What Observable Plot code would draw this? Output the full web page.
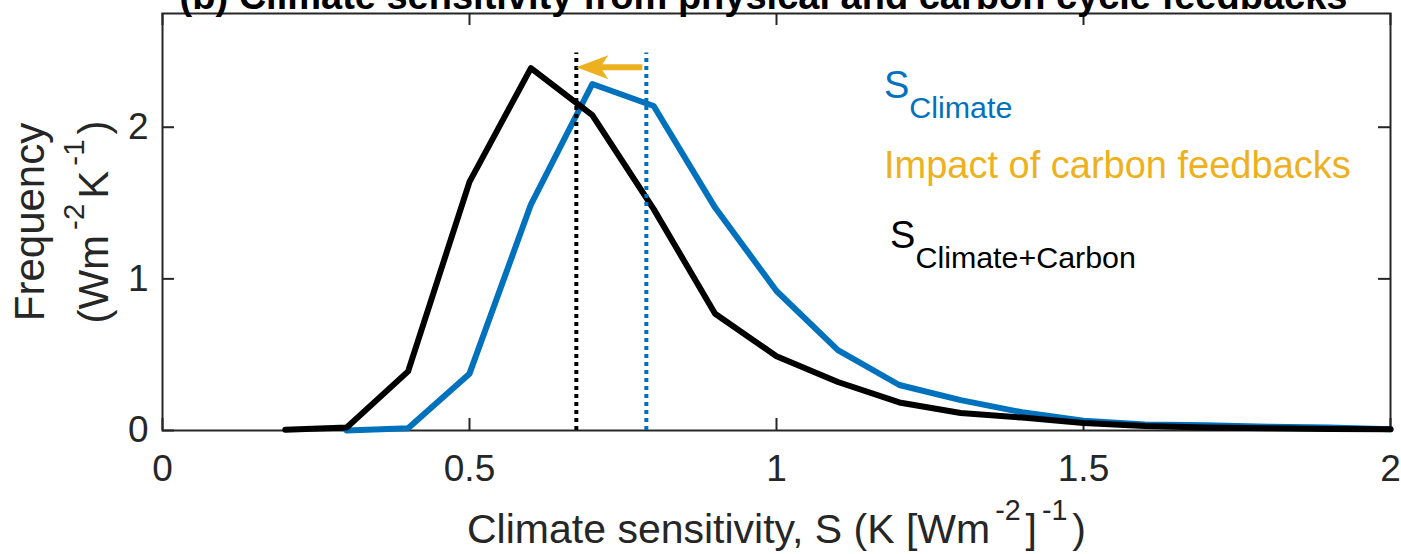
<!DOCTYPE html>
<html>
<head>
<meta charset="utf-8">
<script src="https://cdn.jsdelivr.net/npm/d3@7"></script>
<script src="https://cdn.jsdelivr.net/npm/@observablehq/plot@0.6"></script>
<style>
  html, body { margin: 0; padding: 0; background: #fff; }
  #chart svg { display: block; }
</style>
</head>
<body>
<div id="chart"></div>
<script>
// Climate sensitivity bins, K [W m^-2]^-1
const sensClimateCarbon = [0.2, 0.3, 0.4, 0.5, 0.6, 0.7, 0.8, 0.9, 1.0, 1.1, 1.2, 1.3, 1.4, 1.5, 1.6, 1.7, 1.8, 1.9, 2.0];
const freqClimateCarbon = [0.005, 0.02, 0.39, 1.64, 2.39, 2.08, 1.46, 0.77, 0.49, 0.32, 0.185, 0.115, 0.085, 0.05, 0.03, 0.02, 0.015, 0.01, 0.008];

const sensClimate = [0.3, 0.4, 0.5, 0.6, 0.7, 0.8, 0.9, 1.0, 1.1, 1.2, 1.3, 1.4, 1.5, 1.6, 1.7, 1.8, 1.9, 2.0];
const freqClimate = [0.0, 0.015, 0.375, 1.49, 2.285, 2.14, 1.47, 0.92, 0.53, 0.30, 0.20, 0.12, 0.065, 0.04, 0.035, 0.025, 0.02, 0.008];

// Mean sensitivity of each distribution
const meanClimate = 0.788;
const meanClimateCarbon = 0.674;

const xTicks = [0, 0.5, 1, 1.5, 2];
const xTickLabels = ["0", "0.5", "1", "1.5", "2"];
const yTicks = [0, 1, 2];
const yTickLabels = ["0", "1", "2"];

const legendLabels = ["S_{Climate}", "Impact of carbon feedbacks", "S_{Climate+Carbon}"];
const titleText = "(b) Climate sensitivity from physical and carbon cycle feedbacks";
const xLabel = "Climate sensitivity, S (K [Wm^{-2}]^{-1})";
const yLabelLines = ["Frequency", "(Wm^{-2}K^{-1})"];

const blue = "#0072BD";
const orange = "#EDB120";
const black = "#000000";
const axisColor = "#262626";

const W = 1401, H = 554;
const margin = {top: 13, right: 11, bottom: 124, left: 162};
const innerW = W - margin.left - margin.right;
const innerH = H - margin.top - margin.bottom;
const tickLen = 12;

const climateData = sensClimate.map((s, i) => ({s, f: freqClimate[i]}));
const climateCarbonData = sensClimateCarbon.map((s, i) => ({s, f: freqClimateCarbon[i]}));

// Notched arrowhead pointing left, tip at the anchor point
const arrowHead = {
  draw(context, size) {
    const r = Math.sqrt(size / Math.PI);
    context.moveTo(0, 0);
    context.lineTo(2 * r, -0.75 * r);
    context.lineTo(1.5 * r, 0);
    context.lineTo(2 * r, 0.75 * r);
    context.closePath();
  }
};

const font = "'Liberation Sans', Arial, Helvetica, sans-serif";

const chart = Plot.plot({
  width: W,
  height: H,
  marginTop: margin.top,
  marginRight: margin.right,
  marginBottom: margin.bottom,
  marginLeft: margin.left,
  style: {fontFamily: font, fontSize: "37px", color: axisColor, background: "#fff", overflow: "hidden"},
  x: {domain: [0, 2]},
  y: {domain: [0, 2.75]},
  marks: [
    // box and inward ticks on all four sides
    Plot.frame({stroke: axisColor, strokeWidth: 2}),
    Plot.tickX(xTicks, {x: d => d, insetTop: innerH - tickLen, stroke: axisColor, strokeWidth: 2}),
    Plot.tickX(xTicks, {x: d => d, insetBottom: innerH - tickLen, stroke: axisColor, strokeWidth: 2}),
    Plot.tickY(yTicks, {y: d => d, insetRight: innerW - tickLen, stroke: axisColor, strokeWidth: 2}),
    Plot.tickY(yTicks, {y: d => d, insetLeft: innerW - tickLen, stroke: axisColor, strokeWidth: 2}),
    Plot.axisX({ticks: xTicks, tickFormat: d => xTickLabels[xTicks.indexOf(d)], tickSize: 0, tickPadding: 24, fontSize: 37, label: null, color: axisColor}),
    Plot.axisY({ticks: yTicks, tickFormat: d => yTickLabels[yTicks.indexOf(d)], tickSize: 0, tickPadding: 14, fontSize: 37, label: null, color: axisColor}),

    // distributions
    Plot.line(climateData, {x: "s", y: "f", stroke: blue, strokeWidth: 6, strokeLinejoin: "round"}),
    Plot.line(climateCarbonData, {x: "s", y: "f", stroke: black, strokeWidth: 6, strokeLinejoin: "round"}),

    // means
    Plot.ruleX([meanClimateCarbon], {x: d => d, y1: 0, y2: 2.49, stroke: black, strokeWidth: 4, strokeDasharray: "4 4"}),
    Plot.ruleX([meanClimate], {x: d => d, y1: 0, y2: 2.49, stroke: blue, strokeWidth: 4, strokeDasharray: "4 4"}),

    // shift from carbon feedbacks
    Plot.arrow([0], {x1: meanClimate, x2: meanClimateCarbon, y1: 2.395, y2: 2.395, stroke: orange, strokeWidth: 6, strokeLinecap: "butt", headLength: 0, insetStart: 4, insetEnd: 22}),
    Plot.dot([0], {x: meanClimateCarbon, y: 2.395, symbol: arrowHead, r: 16, fill: orange, stroke: "none"}),

    // annotations
    Plot.text([legendLabels[0]], {x: 1.175, y: 2.193, text: d => d, fill: blue, fontSize: 38, textAnchor: "start", lineAnchor: "bottom"}),
    Plot.text([legendLabels[1]], {x: 1.175, y: 1.666, text: d => d, fill: orange, fontSize: 38, textAnchor: "start", lineAnchor: "bottom"}),
    Plot.text([legendLabels[2]], {x: 1.185, y: 1.206, text: d => d, fill: black, fontSize: 38, textAnchor: "start", lineAnchor: "bottom"}),

    // title and axis labels
    Plot.text([titleText], {frameAnchor: "top", dy: -5, dx: -13, text: d => d, lineAnchor: "bottom", fontSize: 38, fontWeight: "bold", fill: black}),
    Plot.text([xLabel], {frameAnchor: "bottom", dy: 112, text: d => d, lineAnchor: "bottom", fontSize: 41, fill: axisColor}),
    Plot.text([yLabelLines[0]], {frameAnchor: "left", dx: -119, text: d => d, rotate: -90, textAnchor: "middle", lineAnchor: "bottom", fontSize: 42, fill: axisColor}),
    Plot.text([yLabelLines[1]], {frameAnchor: "left", dx: -55, text: d => d, rotate: -90, textAnchor: "middle", lineAnchor: "bottom", fontSize: 42, fill: axisColor})
  ]
});

document.getElementById("chart").appendChild(chart);

// Render TeX-style _{...} and ^{...} as lowered / raised tspans
function texify(svg) {
  d3.select(svg).selectAll("text").each(function () {
    const el = this;
    const s = el.textContent;
    if (!/[_^]\{/.test(s)) return;
    const fs = parseFloat(getComputedStyle(el).fontSize);
    const parts = [];
    const re = /([_^])\{([^}]*)\}/g;
    let last = 0, m;
    while ((m = re.exec(s))) {
      if (m.index > last) parts.push({t: s.slice(last, m.index), k: 0});
      parts.push({t: m[2], k: m[1] === "^" ? 1 : -1});
      last = re.lastIndex;
    }
    if (last < s.length) parts.push({t: s.slice(last), k: 0});
    el.textContent = "";
    let offset = 0;
    let prevK = 0;
    for (const p of parts) {
      const shift = p.k === 1 ? -0.55 * fs : p.k === -1 ? 0.53 * fs : 0;
      const ts = d3.select(el).append("tspan").text(p.t);
      ts.attr("dy", shift - offset);
      if (p.k) ts.attr("font-size", (p.k === 1 ? 0.7 : 0.8) * fs);
      if (p.k === 1 || prevK === 1) ts.attr("dx", 0.12 * fs);
      offset = shift;
      prevK = p.k;
    }
  });
}
texify(chart);
</script>
</body>
</html>
